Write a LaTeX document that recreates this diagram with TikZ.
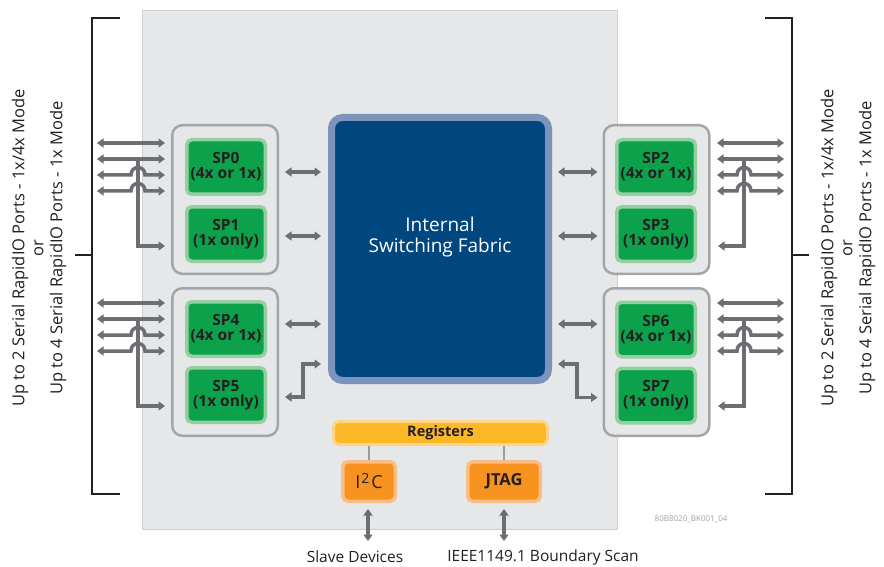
\documentclass[tikz,border=0pt]{standalone}
\usepackage{fontspec}
\setmainfont{Open Sans}
\usetikzlibrary{arrows.meta,calc}

\definecolor{chipbg}{HTML}{E6E7E8}
\definecolor{chipedge}{HTML}{CDCED0}
\definecolor{grpedge}{HTML}{A3A5A8}
\definecolor{wire}{HTML}{6D6E71}
\definecolor{thinwire}{HTML}{9A9B9D}
\definecolor{spfill}{HTML}{0CA24B}
\definecolor{spedge}{HTML}{93CFA0}
\definecolor{fabfill}{HTML}{00467F}
\definecolor{fabedge}{HTML}{7C93BC}
\definecolor{regfill}{HTML}{FDB827}
\definecolor{regedge}{HTML}{FCD48A}
\definecolor{ifcfill}{HTML}{F7921E}
\definecolor{ifcedge}{HTML}{F9BE86}
\definecolor{ink}{HTML}{231F20}
\definecolor{tagink}{HTML}{9FA1A4}

\tikzset{
  tip/.tip={Triangle[length=6.5pt,width=9pt]},
  bus/.style={draw=wire, line width=3.5pt},
  busarrow/.style={bus, tip-tip},
  busout/.style={bus, -tip},
  group/.style={draw=grpedge, line width=2.5pt, fill=chipbg, rounded corners=10pt,
    minimum width=105.5pt},
  spbox/.style={draw=spedge, line width=3.5pt, fill=spfill, rounded corners=5pt,
    minimum width=78.5pt, minimum height=54.5pt, text=ink, align=center, inner sep=1pt,
    font=\bfseries\fontsize{15.5}{15}\selectfont},
  fabric/.style={draw=fabedge, line width=7pt, fill=fabfill, rounded corners=11pt,
    minimum width=217pt, minimum height=263pt},
  regbar/.style={draw=regedge, line width=3pt, fill=regfill, rounded corners=5pt,
    minimum width=214pt, minimum height=23pt, text=ink, inner sep=1pt,
    font=\bfseries\fontsize{14.5}{15}\selectfont},
  ifcbox/.style={draw=ifcedge, line width=3.5pt, fill=ifcfill, rounded corners=5pt,
    minimum height=39.5pt, text=ink},
  bracket/.style={draw=ink, line width=2pt},
  sidetext/.style={rotate=90, align=center, text=ink, font=\fontsize{16.5}{19}\selectfont},
  caption/.style={text=ink, font=\fontsize{15.5}{17}\selectfont},
}

\begin{document}
\begin{tikzpicture}[x=1pt,y=-1pt]
\useasboundingbox (0,0) rectangle (884,567);

% chip outline
\node[draw=chipedge, line width=1.2pt, fill=chipbg, minimum width=475pt, minimum height=519pt,
  inner sep=0pt] (chip) at (380,270) {};

% side brackets
\draw[bracket] (120,18) -- (92,18) -- (92,494) -- (120,494);
\draw[bracket] (75,255) -- (92,255);
\draw[bracket] (765,18) -- (792,18) -- (792,494) -- (765,494);
\draw[bracket] (792,255) -- (809,255);

\node[sidetext] (ltext) at (39,248)
  {Up to 2 Serial RapidIO Ports - 1x/4x Mode\\or\\Up to 4 Serial RapidIO Ports - 1x Mode};
\node[sidetext] (rtext) at (848,248)
  {Up to 2 Serial RapidIO Ports - 1x/4x Mode\\or\\Up to 4 Serial RapidIO Ports - 1x Mode};

% port groups
\node[group, minimum height=148.5pt] (gA) at (225,199.5) {};
\node[group, minimum height=147.5pt] (gB) at (225,362) {};
\node[group, minimum height=148.5pt] (gC) at (656.5,199.5) {};
\node[group, minimum height=147.5pt] (gD) at (656.5,362) {};

\node[spbox] (sp0) at (226,167) {SP0\\(4x or 1x)};
\node[spbox] (sp1) at (226,234) {SP1\\(1x only)};
\node[spbox] (sp4) at (226,329) {SP4\\(4x or 1x)};
\node[spbox] (sp5) at (226,395) {SP5\\(1x only)};
\node[spbox] (sp2) at (656,167) {SP2\\(4x or 1x)};
\node[spbox] (sp3) at (656,234) {SP3\\(1x only)};
\node[spbox] (sp6) at (656,329.5) {SP6\\(4x or 1x)};
\node[spbox] (sp7) at (656,395.5) {SP7\\(1x only)};

% switching fabric
\node[fabric] (fab) at (440,249) {};
\node[text=white, align=center, font=\fontsize{19}{21}\selectfont] (fabtext)
  at ($(fab.center)+(0,-12)$) {Internal\\Switching Fabric};

% links between port groups and the fabric
\draw[busarrow] ($(gA.east|-sp0)+(6,5)$) -- ($(fab.west|-sp0)+(-7,5)$);
\draw[busarrow] ($(gA.east|-sp1)+(6,2)$) -- ($(fab.west|-sp1)+(-7,2)$);
\draw[busarrow] ($(gB.east|-sp4)+(6,-5)$) -- ($(fab.west|-sp4)+(-7,-5)$);
\draw[busarrow] ($(gB.east|-sp5)+(6,2)$) -| (303,364) -- ($(fab.west|-sp5)+(-7,-31)$);
\draw[busarrow] ($(gC.west|-sp2)+(-5,5)$) -- ($(fab.east|-sp2)+(6,5)$);
\draw[busarrow] ($(gC.west|-sp3)+(-5,2)$) -- ($(fab.east|-sp3)+(6,2)$);
\draw[busarrow] ($(gD.west|-sp6)+(-5,-5.5)$) -- ($(fab.east|-sp6)+(6,-5.5)$);
\draw[busarrow] ($(gD.west|-sp7)+(-5,2)$) -| (577,364) -- ($(fab.east|-sp7)+(6,-31.5)$);

% external serial lanes, left side
\foreach \g/\t/\b in {A/143/246, B/303/406}{
  \coordinate (l\g0) at (97,\t);
  \draw[busarrow] (l\g0) -- (165,\t);
  \draw[busarrow] (97,\t+16) -- (165,\t+16);
  \draw[busarrow] (97,\t+32) -- (131,\t+32) .. controls (131,\t+22) and (145,\t+22) .. (145,\t+32) -- (165,\t+32);
  \draw[busarrow] (97,\t+48) -- (131,\t+48) .. controls (131,\t+38) and (145,\t+38) .. (145,\t+48) -- (165,\t+48);
  \draw[busout] (138,\t+16) -- (138,\b) -- (165,\b);
}
% external serial lanes, right side
\foreach \g/\t/\b in {C/143/246, D/303/406}{
  \coordinate (l\g0) at (784,\t);
  \draw[busarrow] (717,\t) -- (l\g0);
  \draw[busarrow] (717,\t+16) -- (784,\t+16);
  \draw[busarrow] (717,\t+32) -- (737,\t+32) .. controls (737,\t+22) and (751,\t+22) .. (751,\t+32) -- (784,\t+32);
  \draw[busarrow] (717,\t+48) -- (737,\t+48) .. controls (737,\t+38) and (751,\t+38) .. (751,\t+48) -- (784,\t+48);
  \draw[busout] (744,\t+16) -- (744,\b) -- (718,\b);
}

% registers and management interfaces
\node[regbar] (reg) at (440.5,433) {Registers};
\node[ifcbox, minimum width=52.5pt, inner sep=1pt, font=\fontsize{18}{18}\selectfont] (i2c) at (369,481.5)
  {I\kern1pt\raisebox{5pt}{\fontsize{14}{14}\selectfont 2}\kern2pt C};
\node[ifcbox, minimum width=72.5pt, inner sep=1pt, font=\bfseries\fontsize{16.5}{18}\selectfont] (jtag) at (504,481.5) {JTAG};

\draw[draw=thinwire, line width=2pt] (reg.south-|i2c) -- (i2c.north);
\draw[draw=thinwire, line width=2pt] (reg.south-|jtag) -- (jtag.north);

\coordinate (slave) at (368,541);
\coordinate (scan) at (504,541);
\draw[busarrow] ($(i2c.south)+(-1,6)$) -- (slave);
\draw[busarrow] ($(jtag.south)+(0,6)$) -- (scan);

\node[caption] (slavetxt) at (355,557) {Slave Devices};
\node[caption] (scantxt) at (543,557) {IEEE1149.1 Boundary Scan};

\node[anchor=east, text=tagink, font=\fontsize{8}{9}\selectfont] (tag) at (731,519) {80B8020\_BK001\_04};
\end{tikzpicture}
\end{document}
